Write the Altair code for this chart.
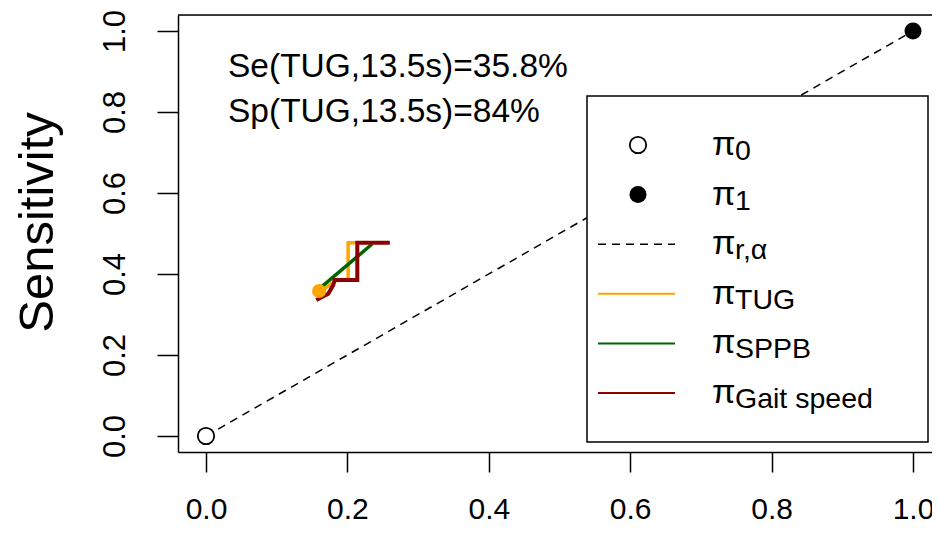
import altair as alt
import pandas as pd

# ---- data ----
tick_values = [0.0, 0.2, 0.4, 0.6, 0.8, 1.0]
ref_x = [0.0, 1.0]
ref_y = [0.0, 1.0]
tug_x = [0.161, 0.185, 0.201, 0.201, 0.214]
tug_y = [0.356, 0.385, 0.385, 0.477, 0.477]
sppb_x = [0.158, 0.235]
sppb_y = [0.360, 0.474]
gait_x = [0.156, 0.173, 0.180, 0.182, 0.214, 0.214, 0.260]
gait_y = [0.336, 0.351, 0.373, 0.385, 0.385, 0.477, 0.477]
cut_x = [0.16]
cut_y = [0.358]
annot_lines = ["Se(TUG,13.5s)=35.8%", "Sp(TUG,13.5s)=84%"]
legend_subs = ["0", "1", "r,\u03b1", "TUG", "SPPB", "Gait speed"]
legend_kinds = ["open", "filled", "dash", "#FFA500", "#006400", "#8B0000"]

W, H = 754, 437
XDOM = [-28 / 707, (W - 28) / 707]
YDOM = [-(H - 421) / 405, 1 + 16 / 405]
TICKFONT = "Liberation Sans Narrow, Liberation Sans, Arial, sans-serif"
FONT = "Liberation Sans, Arial, sans-serif"

xs = alt.Scale(domain=XDOM, nice=False, zero=False)
ys = alt.Scale(domain=YDOM, nice=False, zero=False)

xax = alt.Axis(values=tick_values, format=".1f", title=None, grid=False,
               tickSize=20, tickWidth=1.5, domainWidth=1.5, labelFontSize=30,
               labelFont=TICKFONT, labelPadding=22, labelColor="black",
               tickColor="black", domainColor="black")
yax = alt.Axis(values=tick_values, format=".1f", title="Sensitivity", grid=False,
               tickSize=21, tickWidth=1.5, domainWidth=1.5, labelFontSize=31,
               labelFont=TICKFONT, labelPadding=26, labelAngle=270,
               labelAlign="center", labelBaseline="bottom", labelColor="black",
               tickColor="black", domainColor="black",
               titleFont=FONT, titleFontSize=49, titleFontWeight="normal",
               titleAngle=270, titleAlign="center", titleBaseline="alphabetic",
               titleX=-126, titleY=207, titleColor="black")

def line_df(xv, yv):
    return pd.DataFrame({"x": xv, "y": yv, "o": list(range(len(xv)))})

ref = alt.Chart(line_df(ref_x, ref_y)).mark_line(
    color="black", strokeWidth=1.5, strokeDash=[8, 6]
).encode(x=alt.X("x:Q", scale=xs, axis=xax), y=alt.Y("y:Q", scale=ys, axis=yax), order="o:Q")

def step(xv, yv, col, w):
    return alt.Chart(line_df(xv, yv)).mark_line(color=col, strokeWidth=w, strokeJoin="miter").encode(
        x=alt.X("x:Q", scale=xs), y=alt.Y("y:Q", scale=ys), order="o:Q")

tug = step(tug_x, tug_y, "#FFA500", 3.5)
sppb = step(sppb_x, sppb_y, "#006400", 3.5)
gait = step(gait_x, gait_y, "#8B0000", 4)

p0 = alt.Chart(pd.DataFrame({"x": ref_x[:1], "y": ref_y[:1]})).mark_point(
    shape="circle", size=270, filled=True, fill="white", stroke="black", strokeWidth=1.8, opacity=1
).encode(x=alt.X("x:Q", scale=xs), y=alt.Y("y:Q", scale=ys))
p1 = alt.Chart(pd.DataFrame({"x": ref_x[1:], "y": ref_y[1:]})).mark_point(
    shape="circle", size=290, filled=True, color="black", opacity=1
).encode(x=alt.X("x:Q", scale=xs), y=alt.Y("y:Q", scale=ys))
cut = alt.Chart(pd.DataFrame({"x": cut_x, "y": cut_y})).mark_point(
    shape="circle", size=200, filled=True, color="#FFA500", opacity=1
).encode(x=alt.X("x:Q", scale=xs), y=alt.Y("y:Q", scale=ys))

one = alt.Data(values=[{"a": 0}])

top_border = alt.Chart(one).mark_rule(color="black", strokeWidth=1.5).encode(
    x=alt.value(0), x2=alt.value(W), y=alt.value(0))

layers = [ref, tug, sppb, gait, cut, p0, p1, top_border]

# annotation
for i, t in enumerate(annot_lines):
    layers.append(alt.Chart(alt.Data(values=[{"t": t}])).mark_text(
        align="left", baseline="alphabetic", fontSize=33.5, font=FONT, color="black"
    ).encode(x=alt.value(50), y=alt.value(62 + 45 * i), text="t:N"))

# legend box
layers.append(alt.Chart(one).mark_rect(fill="white", stroke="black", strokeWidth=1.5).encode(
    x=alt.value(409), x2=alt.value(750), y=alt.value(81), y2=alt.value(427)))

for i, (sub, kind) in enumerate(zip(legend_subs, legend_kinds)):
    cy = 130 + 49.6 * i
    if kind == "open":
        layers.append(alt.Chart(one).mark_point(shape="circle", size=270, filled=True, fill="white",
                                                stroke="black", strokeWidth=1.8, opacity=1).encode(
            x=alt.value(460), y=alt.value(cy)))
    elif kind == "filled":
        layers.append(alt.Chart(one).mark_point(shape="circle", size=290, filled=True,
                                                color="black", opacity=1).encode(
            x=alt.value(460), y=alt.value(cy)))
    elif kind == "dash":
        layers.append(alt.Chart(one).mark_rule(color="black", strokeWidth=1.5, strokeDash=[8, 6]).encode(
            x=alt.value(420), x2=alt.value(497), y=alt.value(cy)))
    else:
        layers.append(alt.Chart(one).mark_rule(color=kind, strokeWidth=2).encode(
            x=alt.value(420), x2=alt.value(497), y=alt.value(cy)))
    layers.append(alt.Chart(alt.Data(values=[{"t": "\u03c0"}])).mark_text(
        align="left", baseline="alphabetic", fontSize=34, font=FONT, color="black"
    ).encode(x=alt.value(534), y=alt.value(cy + 10), text="t:N"))
    layers.append(alt.Chart(alt.Data(values=[{"t": sub}])).mark_text(
        align="left", baseline="alphabetic", fontSize=28.5, font=FONT, color="black"
    ).encode(x=alt.value(557), y=alt.value(cy + 15), text="t:N"))

chart = alt.layer(*layers).properties(
    width=W, height=H,
    autosize=alt.AutoSizeParams(type="none"),
    padding={"left": 170, "top": 7, "right": 0, "bottom": 73},
).configure_view(stroke=None).configure(background="white")

chart.save("out.html", embed_options={"renderer": "svg", "actions": False})
